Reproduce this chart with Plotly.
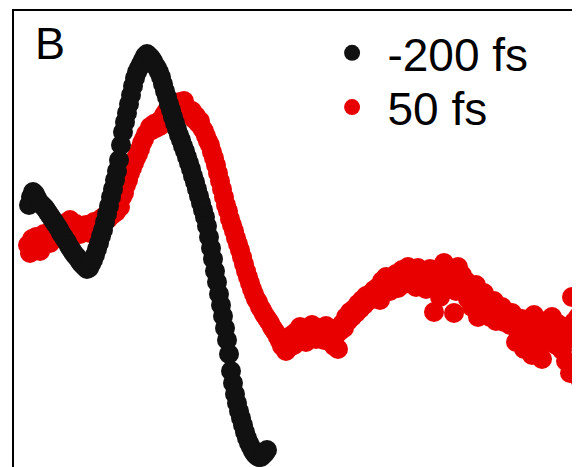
import plotly.graph_objects as go

# -200 fs trace (arbitrary units)
black_x = [15, 17, 19, 21, 23, 25, 27, 29, 31, 33, 35, 37, 39, 41, 43, 45, 47, 49, 51, 53,
           55, 57, 59, 61, 63, 65, 67, 69, 71, 73, 75, 77, 79, 81, 83, 85, 87, 89, 91, 93,
           95, 97, 99, 101, 103, 105, 107, 109, 111, 113, 115, 117, 119, 121, 123, 125, 127, 129, 131, 133,
           135, 137, 139, 141, 143, 145, 147, 149, 151, 153, 155, 157, 159, 161, 163, 165, 167, 169, 171, 173,
           175, 177, 179, 181, 183, 185, 187, 189, 191, 193, 195, 197, 199, 201, 203, 205, 207, 209, 211, 213,
           215, 217, 219, 221, 223, 225, 227, 229, 231, 233, 235, 237, 239, 241, 243, 245, 247, 249, 251, 253]
black_y = [262, 270, 275, 273, 269, 265, 263, 261, 259, 256, 253, 250, 247, 244, 241, 238, 234, 231, 228, 225,
           221, 218, 215, 212, 210, 207, 204, 202, 200, 198, 199, 203, 207, 212, 218, 224, 231, 237, 245, 253,
           261, 270, 278, 287, 296, 307, 322, 335, 345, 354, 363, 372, 381, 389, 395, 399, 403, 407, 411, 413,
           411, 409, 406, 402, 399, 395, 390, 383, 376, 370, 363, 357, 350, 344, 338, 332, 327, 321, 316, 310,
           304, 298, 291, 285, 278, 271, 264, 257, 250, 241, 230, 219, 208, 196, 185, 173, 162, 151, 139, 127,
           113, 96, 84, 73, 64, 56, 49, 42, 35, 29, 24, 20, 16, 13, 11, 10, 10, 12, 14, 17]

# 50 fs trace
red_x = [14, 16, 18, 20, 22, 24, 26, 28, 30, 32, 34, 36, 38, 40, 42, 44, 46, 48, 50, 52,
         54, 56, 58, 60, 62, 64, 66, 68, 70, 72, 74, 76, 78, 80, 82, 84,
         86, 88, 90, 92, 94, 96, 98, 100, 102, 104, 106, 108, 110, 112, 114, 116, 118, 120, 122, 124,
         126, 128, 130, 132, 134, 136, 138, 140, 142, 144, 146, 148, 150, 152, 154, 156, 158, 160, 162, 164,
         166, 168, 170, 172,
         174, 176, 178, 180, 182, 184, 186, 188, 190, 192, 194, 196, 198, 200, 202, 204, 206, 208, 210, 212,
         214, 216, 218, 220, 222, 224, 226, 228, 230, 232, 234, 236, 238, 240, 242, 244, 246, 248, 250, 252,
         254, 256, 258, 260, 262, 264, 266, 268,
         270, 272, 274, 276, 278, 280, 282, 284, 286, 288, 290, 292, 294, 296, 298, 300, 302, 304, 306, 308,
         310, 312, 314, 316, 318, 320, 322, 324, 326, 328, 330, 332, 334, 336, 338, 340, 342, 344, 346, 348,
         350, 352, 354, 356, 358, 360, 362, 364, 366, 368, 370, 372, 374, 376, 378,
         380, 382, 384, 386, 388, 390, 392, 394, 396, 398, 400, 402, 404, 406, 408, 410, 412, 414, 416, 418,
         420, 422, 424, 426, 428, 430, 432, 434, 436, 438, 440, 442, 444, 446, 448, 450, 452, 454, 456, 458,
         460, 462, 464, 466, 468, 470, 472, 474, 476, 478, 480, 482, 484, 486, 488, 490, 492, 494, 496, 498,
         500, 502, 504, 506, 508, 510, 512, 514, 516, 518, 520, 522, 524, 526, 528, 530, 532, 534, 536, 538,
         540, 542, 544, 546, 548, 550, 552, 554, 556, 558, 560, 562, 564, 566]
red_y = [222, 214, 228, 219, 230, 224, 216, 229, 233, 226, 231, 224, 235, 229, 232, 238, 229, 236, 240, 244,
         238, 247, 241, 236, 243, 238, 233, 240, 236, 242, 238, 234, 241, 245, 240, 246,
         243, 249, 245, 252, 248, 256, 252, 259, 255, 263, 260, 270, 274, 282, 287, 294, 299, 304, 309, 313,
         318, 324, 328, 333, 335, 340, 337, 343, 339, 345, 341, 348, 352, 355, 358, 354, 361, 357, 363, 359,
         365, 361, 366, 360,
         358, 353, 356, 348, 351, 344, 346, 339, 336, 331, 326, 322, 315, 309, 302, 294, 286, 278, 270, 262,
         256, 248, 242, 236, 229, 223, 217, 210, 203, 196, 190, 184, 178, 173, 168, 165, 160, 157, 153, 150,
         147, 144, 140, 137, 134, 130, 126, 121,
         124, 116, 129, 120, 132, 122, 135, 126, 140, 128, 136, 125, 138, 130, 142, 133, 128, 139, 131, 137,
         127, 141, 134, 129, 138, 121, 132, 118, 136, 143, 139, 150, 146, 155, 150, 158, 154, 163, 158, 167,
         162, 171, 166, 173, 168, 177, 170, 180, 167, 186, 178, 190, 182, 176, 188,
         184, 193, 179, 188, 197, 183, 191, 200, 186, 196, 189, 180, 199, 190, 184, 194, 178, 188, 198, 186,
         155, 180, 192, 170, 182, 204, 190, 178, 196, 185, 154, 176, 200, 184, 192, 175, 186, 168, 180, 160,
         172, 182, 150, 168, 160, 174, 155, 162, 150, 158, 166, 146, 156, 152, 160, 145, 153, 148, 142, 154,
         147, 125, 140, 133, 148, 118, 138, 128, 145, 112, 152, 135, 141, 120, 108, 130, 146, 138, 126, 150,
         134, 122, 143, 130, 117, 140, 106, 128, 94, 170, 145, 133, 150, 88]

BLACK = "#111111"
RED = "#e80000"
FONT = "Arial, Liberation Sans, sans-serif"
SIZE = 20

fig = go.Figure()
# red first so the black trace sits on top
fig.add_trace(go.Scatter(x=red_x, y=red_y, mode="markers", name="\u200450 fs", legend="legend2",
                         marker=dict(color=RED, size=SIZE, line=dict(width=0))))
fig.add_trace(go.Scatter(x=black_x, y=black_y, mode="markers", name="\u2004-200 fs", legend="legend",
                         marker=dict(color=BLACK, size=SIZE, line=dict(width=0))))

legend_style = dict(font=dict(family=FONT, size=46, color="black"), bgcolor="rgba(0,0,0,0)",
                    xanchor="left", yanchor="middle", itemsizing="trace")

# the page body has an 8px margin, so the figure is shrunk by that amount
fig.update_layout(
    width=572, height=459,
    margin=dict(l=6, r=0, t=3, b=0),
    showlegend=True,
    paper_bgcolor="white", plot_bgcolor="white",
    xaxis=dict(range=[0, 566], side="top", showline=True, linecolor="black", linewidth=2,
               showgrid=False, zeroline=False, showticklabels=False, ticks=""),
    yaxis=dict(range=[0, 456], showline=True, linecolor="black", linewidth=2,
               showgrid=False, zeroline=False, showticklabels=False, ticks=""),
    legend=dict(x=0.562, y=0.908, **legend_style),
    legend2=dict(x=0.562, y=0.789, **legend_style),
    annotations=[dict(text="B", xref="paper", yref="paper", x=0.0336, y=0.928,
                      xanchor="left", yanchor="middle", showarrow=False,
                      font=dict(family=FONT, size=45, color="black"))],
)

fig.write_html("out.html")
